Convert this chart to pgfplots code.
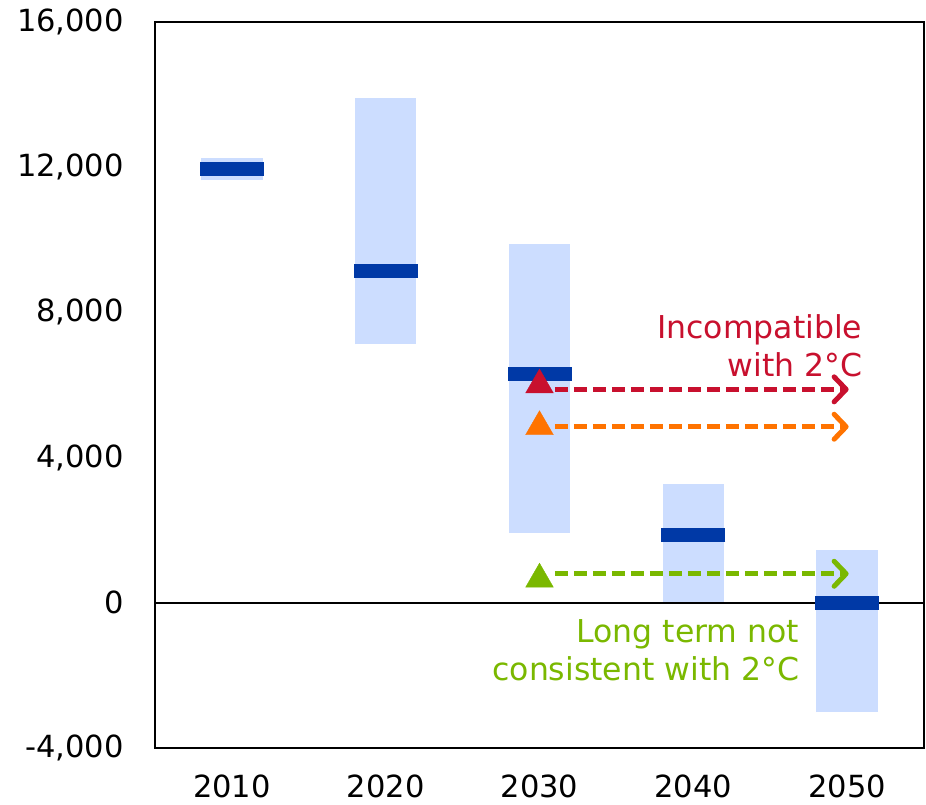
\documentclass[border=0pt]{standalone}
\usepackage{fontspec}
\setmainfont{DejaVu Sans}
\usepackage{pgfplots}
\pgfplotsset{compat=1.18}
\usetikzlibrary{arrows.meta}

\definecolor{rangeblue}{RGB}{204,221,255}
\definecolor{medblue}{RGB}{0,57,166}
\definecolor{incred}{RGB}{200,16,46}
\definecolor{incorange}{RGB}{255,115,0}
\definecolor{ltgreen}{RGB}{122,184,0}

\tikzset{chev/.style={-{Straight Barb[length=12pt, width=25pt, line cap=round, line join=round]}}}

\begin{document}
\fontsize{30}{37}\selectfont
\begin{tikzpicture}
\begin{axis}[
    name=ax,
    scale only axis,
    width=769pt, height=726pt,
    xmin=-0.5, xmax=4.5,
    ymin=-4000, ymax=16000,
    xtick={0,1,2,3,4},
    xticklabels={2010,2020,2030,2040,2050},
    ytick={-4000,0,4000,8000,12000,16000},
    scaled y ticks=false,
    major tick length=0pt,
    axis line style={line width=1.8pt},
    /pgf/number format/assume math mode=true,
    /pgf/number format/1000 sep={,},
    tick label style={font=\fontsize{30.5}{37}\selectfont, inner sep=0pt},
    yticklabel style={xshift=-31pt},
    xticklabel style={yshift=-27pt},
    unbounded coords=jump,
    clip=false,
]
% ranges (min, max)
\addplot[no marks, line width=61.5pt, rangeblue] coordinates {
    (0,11640) (0,12250) (nan,nan)
    (1,7120) (1,13900) (nan,nan)
    (2,1930) (2,9880) (nan,nan)
    (3,0) (3,3260) (nan,nan)
    (4,-3010) (4,1460)
};
% zero line
\addplot[no marks, black, line width=2pt] coordinates {(-0.5,0) (4.5,0)};
% medians
\addplot[only marks, mark=-, mark size=32pt, mark options={line width=14pt, medblue}] coordinates {
    (0,11945) (1,9130) (2,6290) (3,1880) (4,0)
};
% dashed arrows
\addplot[no marks, incred, line width=5pt, dash pattern=on 13pt off 6pt, chev]
    coordinates {(2.10,5880) (4.01,5880)};
\addplot[no marks, incorange, line width=5pt, dash pattern=on 13pt off 6pt, chev]
    coordinates {(2.10,4850) (4.01,4850)};
\addplot[no marks, ltgreen, line width=5pt, dash pattern=on 13pt off 6pt, chev]
    coordinates {(2.10,800) (4.01,800)};
% triangles
\addplot[only marks, mark=triangle*, mark size=16pt, incred] coordinates {(2,6000)};
\addplot[only marks, mark=triangle*, mark size=16pt, incorange] coordinates {(2,4850)};
\addplot[only marks, mark=triangle*, mark size=16pt, ltgreen] coordinates {(2,650)};
% labels
\node[anchor=east, align=right, text=incred, inner sep=0pt,
    font=\fontsize{31.5}{38}\selectfont] at (axis cs:4.1,7090) {Incompatible\\with 2°C};
\node[anchor=east, align=right, text=ltgreen, inner sep=0pt,
    font=\fontsize{31.5}{38}\selectfont] at (axis cs:3.69,-1300) {Long term not\\consistent with 2°C};
\end{axis}
\pgfresetboundingbox
\path (ax.south west) ++(-155pt,-57pt) coordinate (bl);
\path (ax.north east) ++(2pt,22pt) coordinate (tr);
\path[use as bounding box] (bl) rectangle (tr);
\end{tikzpicture}
\end{document}
